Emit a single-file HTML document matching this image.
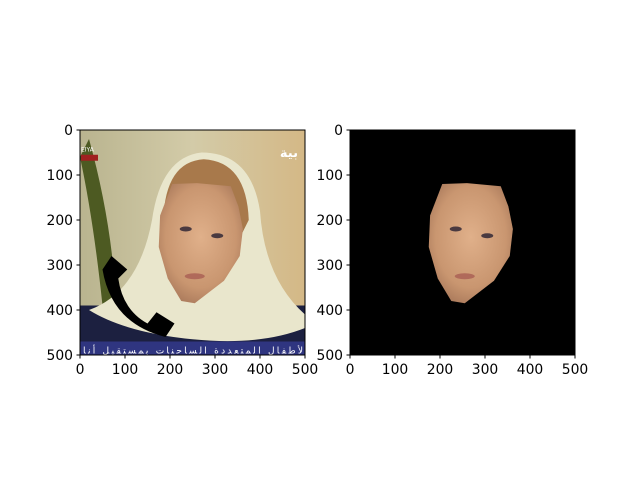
<!DOCTYPE html>
<html><head><meta charset="utf-8"><style>
html,body{margin:0;padding:0;background:#fff;}
svg text{font-family:"DejaVu Sans","Liberation Sans",sans-serif;font-size:13.9px;fill:#000;}
</style></head><body>
<svg id="fig" width="640" height="480" viewBox="0 0 640 480" xmlns="http://www.w3.org/2000/svg">
<defs>
<clipPath id="clipL"><rect x="80" y="130" width="225" height="225"/></clipPath>
<radialGradient id="skin" cx="0.5" cy="0.45" r="0.6"><stop offset="0" stop-color="#e0b08a"/><stop offset="0.7" stop-color="#c99670"/><stop offset="1" stop-color="#a8785a"/></radialGradient>
<linearGradient id="bgL" x1="0" x2="1"><stop offset="0" stop-color="#b9b48f"/><stop offset="0.5" stop-color="#d3cba8"/><stop offset="1" stop-color="#d4b886"/></linearGradient>
</defs>
<g id="left" clip-path="url(#clipL)"></g>
<g id="right"></g>
<g id="axes"></g>
</svg>
<script>
const xTicks=[0,100,200,300,400,500];
const yTicks=[0,100,200,300,400,500];
const faceX=[205,260,335,352,362,355,320,255,225,195,175,178];
const faceY=[120,118,125,170,220,280,335,385,380,330,260,190];
const NS="http://www.w3.org/2000/svg";
const panels=[{x0:80,y0:130,name:'left'},{x0:350,y0:130,name:'right'}];
const W=225,D=500;
function sx(p,v){return p.x0+v*W/D;}
function sy(p,v){return p.y0+v*W/D;}
function el(tag,attrs,parent){const e=document.createElementNS(NS,tag);for(const k in attrs)e.setAttribute(k,attrs[k]);parent.appendChild(e);return e;}
function facePts(p){return faceX.map((x,i)=>sx(p,x)+','+sy(p,faceY[i])).join(' ');}
const L=document.getElementById('left'),pl=panels[0];
let e;
e=el('rect',{x:80,y:130,width:225,height:225,fill:'url(#bgL)'},L);

e=el('path',{d:`M${sx(pl,20)},${sy(pl,20)} Q${sx(pl,70)},${sy(pl,200)} ${sx(pl,80)},${sy(pl,380)} L${sx(pl,50)},${sy(pl,390)} Q${sx(pl,30)},${sy(pl,200)} ${sx(pl,0)},${sy(pl,60)} Z`,fill:'#4d5a22'},L);

e=el('rect',{x:80,y:sy(pl,390),width:225,height:W*90/D,fill:'#1c2040'},L);

e=el('path',{d:`M${sx(pl,20)},${sy(pl,400)} Q${sx(pl,130)},${sy(pl,360)} ${sx(pl,160)},${sy(pl,200)} Q${sx(pl,180)},${sy(pl,60)} ${sx(pl,270)},${sy(pl,50)} Q${sx(pl,380)},${sy(pl,50)} ${sx(pl,400)},${sy(pl,180)} Q${sx(pl,410)},${sy(pl,330)} ${sx(pl,500)},${sy(pl,410)} L${sx(pl,500)},${sy(pl,440)} Q${sx(pl,400)},${sy(pl,480)} ${sx(pl,250)},${sy(pl,465)} Q${sx(pl,100)},${sy(pl,450)} ${sx(pl,20)},${sy(pl,400)} Z`,fill:'#e9e6cc'},L);

e=el('path',{d:`M${sx(pl,185)},${sy(pl,200)} Q${sx(pl,190)},${sy(pl,70)} ${sx(pl,275)},${sy(pl,65)} Q${sx(pl,370)},${sy(pl,70)} ${sx(pl,375)},${sy(pl,200)} L${sx(pl,360)},${sy(pl,230)} Q${sx(pl,300)},${sy(pl,120)} ${sx(pl,200)},${sy(pl,180)} Z`,fill:'#a8794b'},L);

e=el('polygon',{points:facePts(pl),fill:'url(#skin)'},L);

e=el('path',{d:`M${sx(pl,50)},${sy(pl,310)} Q${sx(pl,70)},${sy(pl,430)} ${sx(pl,190)},${sy(pl,460)} L${sx(pl,210)},${sy(pl,430)} L${sx(pl,170)},${sy(pl,405)} L${sx(pl,150)},${sy(pl,430)} Q${sx(pl,95)},${sy(pl,400)} ${sx(pl,85)},${sy(pl,330)} L${sx(pl,105)},${sy(pl,310)} L${sx(pl,70)},${sy(pl,280)} Z`,fill:'#000'},L);

e=el('rect',{x:80,y:sy(pl,470),width:225,height:W*30/D,fill:'#2f3580'},L);

e=el('text',{x:303,y:sy(pl,497),'text-anchor':'end',textLength:220,style:'font-size:9px;fill:#fff;font-family:"DejaVu Sans",sans-serif'},L);
e.textContent='لأطفال المتعددة الساحنات بمستقبل أنا';

e=el('rect',{x:81,y:sy(pl,55),width:17,height:6,fill:'#a02020'},L);

e=el('text',{x:81,y:sy(pl,48),style:'font-size:6px;fill:#fff'},L);e.textContent='EIYA';

e=el('text',{x:298,y:sy(pl,60),'text-anchor':'end',style:'font-size:13px;fill:#fff;font-family:"DejaVu Sans",sans-serif;font-weight:bold'},L);e.textContent='بية';

const R=document.getElementById('right'),pr=panels[1];
e=el('rect',{x:350,y:130,width:225,height:225,fill:'#000'},R);

e=el('polygon',{points:facePts(pr),fill:'url(#skin)'},R);

panels.forEach(p=>{
  const g=p.name==='left'?L:R;
  [[235,220],[305,235]].forEach(c=>{e=el('ellipse',{cx:sx(p,c[0]),cy:sy(p,c[1]),rx:6,ry:2.5,fill:'#4a3a40'},g);
  });
  e=el('ellipse',{cx:sx(p,255),cy:sy(p,325),rx:10,ry:3,fill:'#b06a5a'},g);
  
});
const A=document.getElementById('axes');
panels.forEach(p=>{
  e=el('rect',{x:p.x0,y:p.y0,width:W,height:W,fill:'none',stroke:'#000','stroke-width':1},A);
  
  xTicks.forEach(t=>{
    const x=sx(p,t);
    e=el('line',{x1:x,x2:x,y1:p.y0+W,y2:p.y0+W+3.5,stroke:'#000'},A);
    
    e=el('text',{x:x,y:p.y0+W+19,'text-anchor':'middle'},A);e.textContent=t;
    
  });
  yTicks.forEach(t=>{
    const y=sy(p,t);
    e=el('line',{x1:p.x0-3.5,x2:p.x0,y1:y,y2:y,stroke:'#000'},A);
    
    e=el('text',{x:p.x0-7,y:y+5,'text-anchor':'end'},A);e.textContent=t;
    
  });
});
</script>
</body></html>
